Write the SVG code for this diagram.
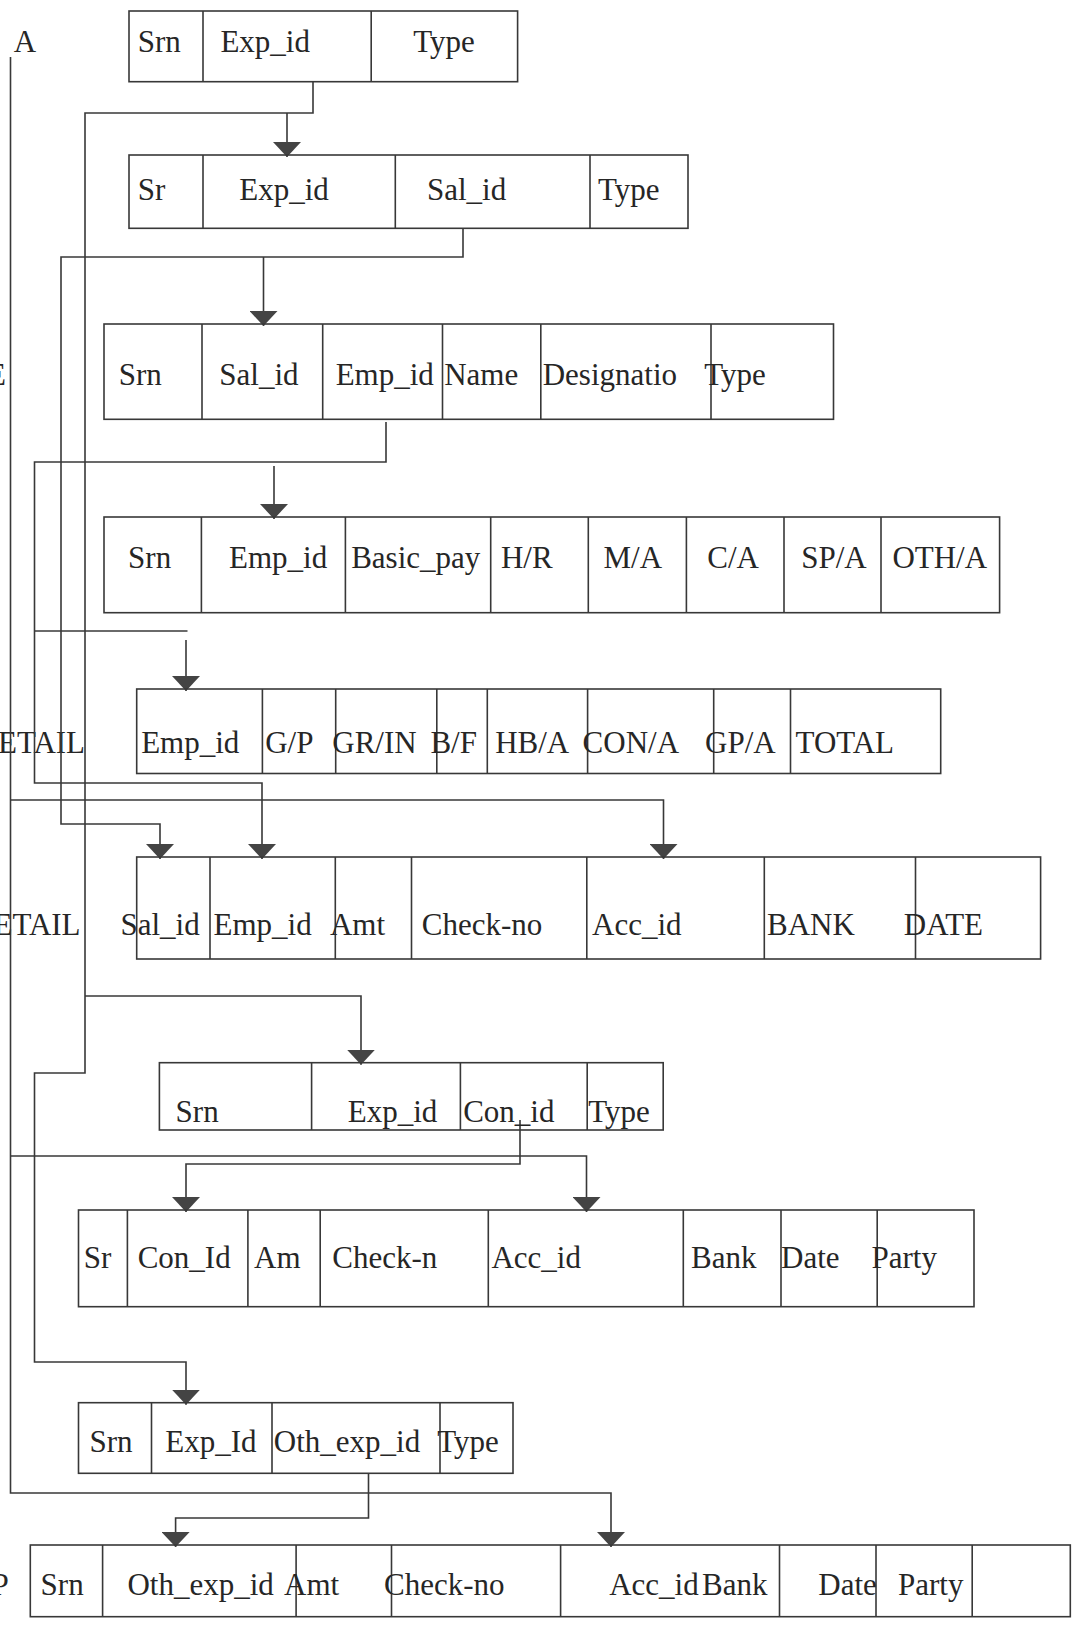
<svg xmlns="http://www.w3.org/2000/svg" width="1076" height="1640" viewBox="0 0 1076 1640">
<style>
.b{fill:none;stroke:#383838;stroke-width:1.6}
.c{fill:none;stroke:#383838;stroke-width:1.6}
text{font-family:"Liberation Serif","Times New Roman",serif;font-size:31px;fill:#262626}
</style>
<defs>
<marker id="ah" viewBox="0 -14 16 28" refX="15" refY="0" markerWidth="16" markerHeight="28" markerUnits="userSpaceOnUse" orient="auto">
<path d="M0,-14 L15,0 L0,14 Z" fill="#444"/>
</marker>
</defs>
<rect width="1076" height="1640" fill="#fff"/>
<g id="labels">
<text x="13.8" y="52">A</text>
<text x="-13" y="385">E</text>
<text x="-2" y="753">ETAIL</text>
<text x="-6.5" y="935">ETAIL</text>
<text x="-8.6" y="1595">P</text>
</g>
<g id="connectors">
<path class="c" d="M313,82 V113 H85 V1073 H34.5 V1362 H186 V1404.7" marker-end="url(#ah)"/>
<path class="c" d="M287,113 V157" marker-end="url(#ah)"/>
<path class="c" d="M85,996 H361 V1064.7" marker-end="url(#ah)"/>
<path class="c" d="M463,228 V257 H61 V824 H160 V859" marker-end="url(#ah)"/>
<path class="c" d="M263.5,257 V326" marker-end="url(#ah)"/>
<path class="c" d="M386,422 V462 H34.5 V783 H262 V859" marker-end="url(#ah)"/>
<path class="c" d="M274,466 V519" marker-end="url(#ah)"/>
<path class="c" d="M34.5,631 H187.5"/>
<path class="c" d="M186,640 V691" marker-end="url(#ah)"/>
<path class="c" d="M10.5,57 V1493 H611 V1547" marker-end="url(#ah)"/>
<path class="c" d="M10.5,800 H663.5 V859" marker-end="url(#ah)"/>
<path class="c" d="M10.5,1156 H586.5 V1212" marker-end="url(#ah)"/>
<path class="c" d="M520,1120 V1164 H186 V1212" marker-end="url(#ah)"/>
<path class="c" d="M368.5,1474 V1518 H175.6 V1547" marker-end="url(#ah)"/>
</g>
<g id="expense">
<rect class="b" x="129" y="11" width="388.6" height="70.7"/>
<path class="b" d="M203,11 V81.7 M371.2,11 V81.7"/>
<text x="137.7" y="52">Srn</text><text x="220.4" y="52">Exp_id</text><text x="413.2" y="52">Type</text>
</g>
<g id="salary-expense">
<rect class="b" x="129" y="155" width="559" height="73.3"/>
<path class="b" d="M203,155 V228.3 M395.3,155 V228.3 M590,155 V228.3"/>
<text x="137.7" y="200">Sr</text><text x="239.3" y="200">Exp_id</text><text x="427" y="200">Sal_id</text><text x="598" y="200">Type</text>
</g>
<g id="salary">
<rect class="b" x="104" y="324" width="729.5" height="95.3"/>
<path class="b" d="M202,324 V419.3 M322.7,324 V419.3 M442.5,324 V419.3 M540.8,324 V419.3 M711,324 V419.3"/>
<text x="118.8" y="385">Srn</text><text x="219.3" y="385">Sal_id</text><text x="335.7" y="385">Emp_id</text><text x="444.2" y="385">Name</text><text x="542.7" y="385">Designatio</text><text x="704.3" y="385">Type</text>
</g>
<g id="salary-detail-1">
<rect class="b" x="104" y="517" width="895.6" height="95.7"/>
<path class="b" d="M201.4,517 V612.7 M345.4,517 V612.7 M490.7,517 V612.7 M588.3,517 V612.7 M686.4,517 V612.7 M784,517 V612.7 M881,517 V612.7"/>
<text x="128.1" y="568">Srn</text><text x="229" y="568">Emp_id</text><text x="351.2" y="568">Basic_pay</text><text x="500.9" y="568">H/R</text><text x="603.5" y="568">M/A</text><text x="707.3" y="568">C/A</text><text x="801.2" y="568">SP/A</text><text x="892.4" y="568">OTH/A</text>
</g>
<g id="salary-detail-2">
<rect class="b" x="136.7" y="689" width="804" height="84.5"/>
<path class="b" d="M262.4,689 V773.5 M335.7,689 V773.5 M436.8,689 V773.5 M487.3,689 V773.5 M587.6,689 V773.5 M713.7,689 V773.5 M790.5,689 V773.5"/>
<text x="141.2" y="753">Emp_id</text><text x="265.2" y="753">G/P</text><text x="332.3" y="753">GR/IN</text><text x="430.4" y="753">B/F</text><text x="495.2" y="753">HB/A</text><text x="582.6" y="753">CON/A</text><text x="705" y="753">GP/A</text><text x="795.5" y="753">TOTAL</text>
</g>
<g id="salary-payment">
<rect class="b" x="136.7" y="857" width="903.9" height="102"/>
<path class="b" d="M210,857 V959 M335.3,857 V959 M411.5,857 V959 M586.8,857 V959 M764.3,857 V959 M915.5,857 V959"/>
<text x="120.5" y="935">Sal_id</text><text x="213.5" y="935">Emp_id</text><text x="329.9" y="935">Amt</text><text x="421.8" y="935">Check-no</text><text x="592.1" y="935">Acc_id</text><text x="767" y="935">BANK</text><text x="903.8" y="935">DATE</text>
</g>
<g id="contract-expense">
<rect class="b" x="159.4" y="1062.7" width="503.8" height="67.3"/>
<path class="b" d="M311.6,1062.7 V1130 M460.4,1062.7 V1130 M587.2,1062.7 V1130"/>
<text x="175.6" y="1121.7">Srn</text><text x="347.8" y="1121.7">Exp_id</text><text x="463.2" y="1121.7">Con_id</text><text x="588.3" y="1121.7">Type</text>
</g>
<g id="contract-payment">
<rect class="b" x="78.5" y="1210" width="895.5" height="96.7"/>
<path class="b" d="M127.4,1210 V1306.7 M247.9,1210 V1306.7 M320.2,1210 V1306.7 M488.3,1210 V1306.7 M683.3,1210 V1306.7 M781,1210 V1306.7 M877.2,1210 V1306.7"/>
<text x="83.7" y="1268.3">Sr</text><text x="137.7" y="1268.3">Con_Id</text><text x="254.1" y="1268.3">Am</text><text x="332.3" y="1268.3">Check-n</text><text x="491.4" y="1268.3">Acc_id</text><text x="691" y="1268.3">Bank</text><text x="781" y="1268.3">Date</text><text x="871.5" y="1268.3">Party</text>
</g>
<g id="other-expense">
<rect class="b" x="78.5" y="1402.7" width="434.5" height="70.6"/>
<path class="b" d="M151.5,1402.7 V1473.3 M272,1402.7 V1473.3 M440,1402.7 V1473.3"/>
<text x="89.5" y="1451.7">Srn</text><text x="165.3" y="1451.7">Exp_Id</text><text x="273.8" y="1451.7">Oth_exp_id</text><text x="437.3" y="1451.7">Type</text>
</g>
<g id="other-payment">
<rect class="b" x="30.3" y="1545" width="1040" height="71.7"/>
<path class="b" d="M102.6,1545 V1616.7 M296.1,1545 V1616.7 M391.5,1545 V1616.7 M560.6,1545 V1616.7 M779.5,1545 V1616.7 M876,1545 V1616.7 M972.2,1545 V1616.7"/>
<text x="40.6" y="1595">Srn</text><text x="127.4" y="1595">Oth_exp_id</text><text x="284.1" y="1595">Amt</text><text x="384" y="1595">Check-no</text><text x="609.2" y="1595">Acc_id</text><text x="702" y="1595">Bank</text><text x="818.3" y="1595">Date</text><text x="898" y="1595">Party</text>
</g>
</svg>
